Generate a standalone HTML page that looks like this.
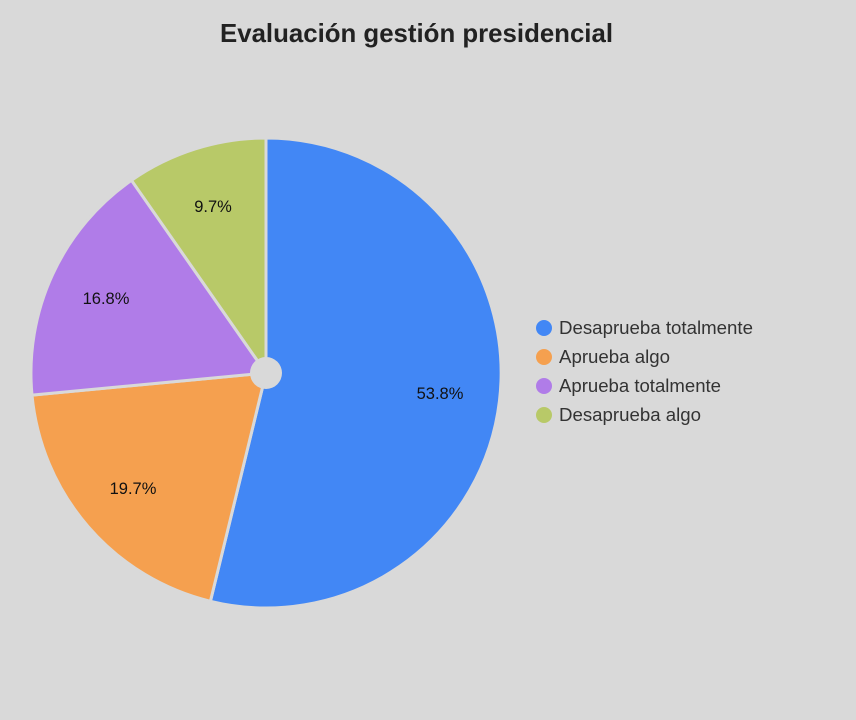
<!DOCTYPE html>
<html><head><meta charset="utf-8"><style>
html,body{margin:0;padding:0;background:#d9d9d9;}
body{width:856px;height:720px;overflow:hidden;}
</style></head><body>
<svg width="856" height="720" xmlns="http://www.w3.org/2000/svg" style="display:block">
<rect width="856" height="720" fill="#d9d9d9"/>
<text x="220" y="42" textLength="393" lengthAdjust="spacingAndGlyphs" font-family="Liberation Sans, sans-serif" font-weight="bold" font-size="26" fill="#222">Evaluación gestión presidencial</text>
<g stroke="#d9d9d9" stroke-width="3" stroke-linejoin="round">
<path d="M266,373 L266,138 A235,235 0 1 1 210.4,601.3 Z" fill="#4287f5"/>
<path d="M266,373 L210.4,601.3 A235,235 0 0 1 32,395.1 Z" fill="#f5a04f"/>
<path d="M266,373 L32,395.1 A235,235 0 0 1 131.5,180.3 Z" fill="#b07ce8"/>
<path d="M266,373 L131.5,180.3 A235,235 0 0 1 266,138 Z" fill="#b8c968"/>
</g>
<circle cx="266" cy="373" r="16" fill="#d9d9d9"/>
<g font-family="Liberation Sans, sans-serif" font-size="16.5" fill="#111" text-anchor="middle">
<text x="440" y="399">53.8%</text>
<text x="133" y="494">19.7%</text>
<text x="106" y="304">16.8%</text>
<text x="213" y="212">9.7%</text>
</g>
<g font-family="Liberation Sans, sans-serif" font-size="18" fill="#333">
<circle cx="544" cy="328" r="8" fill="#4287f5"/><text x="559" y="334" textLength="194" lengthAdjust="spacingAndGlyphs">Desaprueba totalmente</text>
<circle cx="544" cy="357" r="8" fill="#f5a04f"/><text x="559" y="363" textLength="111" lengthAdjust="spacingAndGlyphs">Aprueba algo</text>
<circle cx="544" cy="386" r="8" fill="#b07ce8"/><text x="559" y="392" textLength="162" lengthAdjust="spacingAndGlyphs">Aprueba totalmente</text>
<circle cx="544" cy="415" r="8" fill="#b8c968"/><text x="559" y="421" textLength="142" lengthAdjust="spacingAndGlyphs">Desaprueba algo</text>
</g>
</svg>
</body></html>
